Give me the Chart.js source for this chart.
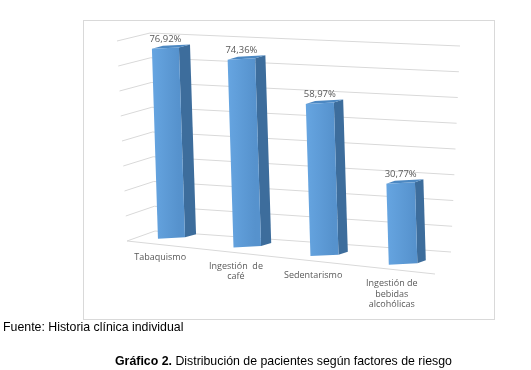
<!DOCTYPE html>
<html><head><meta charset="utf-8">
<script src="https://cdn.jsdelivr.net/npm/chart.js@4.4.1/dist/chart.umd.min.js"></script>
<style>
html,body{margin:0;padding:0;background:#fff;}
#wrap{position:relative;width:531px;height:370px;overflow:hidden;}
#box{position:absolute;left:83px;top:20px;width:412px;height:300px;box-sizing:border-box;border:1px solid #d9d9d9;}
#c{position:absolute;left:0;top:0;}
.note{position:absolute;font-family:"Liberation Sans",Arial,sans-serif;font-size:12.35px;color:#000;white-space:nowrap;line-height:14px;}
</style></head><body>
<div id="wrap">
<div id="box"></div>
<canvas id="c" width="531" height="370"></canvas>
<div class="note" style="left:3px;top:320px">Fuente: Historia clínica individual</div>
<div class="note" style="left:115px;top:354px"><b>Gráfico 2.</b> Distribución de pacientes según factores de riesgo</div>
</div>
<script>
// ---- data ----
const categories = [["Tabaquismo"], ["Ingestión  de", "café"], ["Sedentarismo"], ["Ingestión de", "bebidas", "alcohólicas"]];
const values = [76.92, 74.36, 58.97, 30.77];
const yTicks = [0, 10, 20, 30, 40, 50, 60, 70, 80];

// ---- perspective layout (screen geometry of the 3D box) ----
// bar plane: u = fraction across category axis, v = fraction up the value axis
function barPt(u, v) {
  const x = 134.1 + 297.6 * u + 11.2 * u * u - 6.3 * v;
  const y = 233.7 + 34.67 * u - v * (195.4 + 17.4 * u);
  return [x, y];
}
function depthVec(u) { return [11.5 - 3.5 * u, -3]; }
function wallFront(v) { return [127 - 10 * v, 241 - 200 * v]; }
function wallCorner(v) { return [155 - 5 * v, 231 - 198 * v]; }
function wallRight(v) { return [451 + 9 * v, 252 - 206 * v]; }
const floorFrontRight = [435, 274];

function fmt(v) { return v.toFixed(2).replace('.', ',') + '%'; }

function poly(ctx, pts, fill) {
  ctx.beginPath();
  ctx.moveTo(pts[0][0], pts[0][1]);
  for (let i = 1; i < pts.length; i++) ctx.lineTo(pts[i][0], pts[i][1]);
  ctx.closePath();
  ctx.fillStyle = fill;
  ctx.fill();
}

const perspectivePlugin = {
  id: 'persp',
  beforeDatasetsDraw(chart) {
    const ctx = chart.ctx, area = chart.chartArea;
    const ys = chart.scales.y;
    const toV = py => (area.bottom - py) / (area.bottom - area.top);
    const toU = px => (px - area.left) / (area.right - area.left);
    ctx.save();
    // gridlines (left wall + back wall)
    ctx.strokeStyle = '#d9d9d9';
    ctx.lineWidth = 1;
    yTicks.forEach(t => {
      const v = toV(ys.getPixelForValue(t));
      const a = wallFront(v), b = wallCorner(v), c = wallRight(v);
      ctx.beginPath();
      ctx.moveTo(a[0], a[1]); ctx.lineTo(b[0], b[1]); ctx.lineTo(c[0], c[1]);
      ctx.stroke();
    });
    // floor front edge
    const f0 = wallFront(toV(ys.getPixelForValue(yTicks[0])));
    ctx.beginPath();
    ctx.moveTo(f0[0], f0[1]); ctx.lineTo(floorFrontRight[0], floorFrontRight[1]);
    ctx.stroke();

    // bars
    const meta = chart.getDatasetMeta(0);
    const s = 0.05;
    meta.data.forEach((el, i) => {
      const uc = toU(el.x);
      const h = el.width / 2 / (area.right - area.left);
      const vt = toV(el.y), vb = toV(el.base);
      const c0 = barPt(uc, vb), ct = barPt(uc, vt);
      const hw = (barPt(uc + h, vb)[0] - barPt(uc - h, vb)[0]) / 2;
      const lb = [c0[0] - hw, c0[1] + hw * s], rb = [c0[0] + hw, c0[1] - hw * s];
      const lt = [ct[0] - hw, ct[1] + hw * s], rt = [ct[0] + hw, ct[1] - hw * s];
      const d = depthVec(uc);
      const add = p => [p[0] + d[0], p[1] + d[1]];
      // side face
      poly(ctx, [rb, add(rb), add(rt), rt], '#3d6d9c');
      // top face
      poly(ctx, [lt, rt, add(rt), add(lt)], '#4c88c2');
      // front face
      const g = ctx.createLinearGradient(lt[0], 0, rt[0], 0);
      g.addColorStop(0, '#66a5e1');
      g.addColorStop(1, '#5692cd');
      poly(ctx, [lb, rb, rt, lt], g);
      // value label
      ctx.fillStyle = '#595959';
      ctx.font = '9.5px "Open Sans", "Liberation Sans", sans-serif';
      ctx.textAlign = 'center';
      ctx.textBaseline = 'middle';
      ctx.fillText(fmt(values[i]), ct[0], ct[1] - 9);
      // category label
      const lines = chart.data.labels[i];
      ctx.font = '9px "Open Sans", "Liberation Sans", sans-serif';
      lines.forEach((ln, k) => {
        ctx.fillText(ln, c0[0] - 11.3, c0[1] + 19.7 + k * 10.3);
      });
    });
    ctx.restore();
    return false;
  }
};

new Chart(document.getElementById('c').getContext('2d'), {
  type: 'bar',
  data: {
    labels: categories,
    datasets: [{ data: values, backgroundColor: '#5b9bd5', barPercentage: 0.36, categoryPercentage: 1 }]
  },
  options: {
    responsive: false,
    animation: false,
    devicePixelRatio: 1,
    layout: { padding: 0 },
    plugins: { legend: { display: false }, tooltip: { enabled: false } },
    scales: {
      x: { display: false },
      y: { display: false, min: yTicks[0], max: yTicks[yTicks.length - 1], ticks: { stepSize: yTicks[1] - yTicks[0] } }
    }
  },
  plugins: [perspectivePlugin]
});
</script>
</body></html>
